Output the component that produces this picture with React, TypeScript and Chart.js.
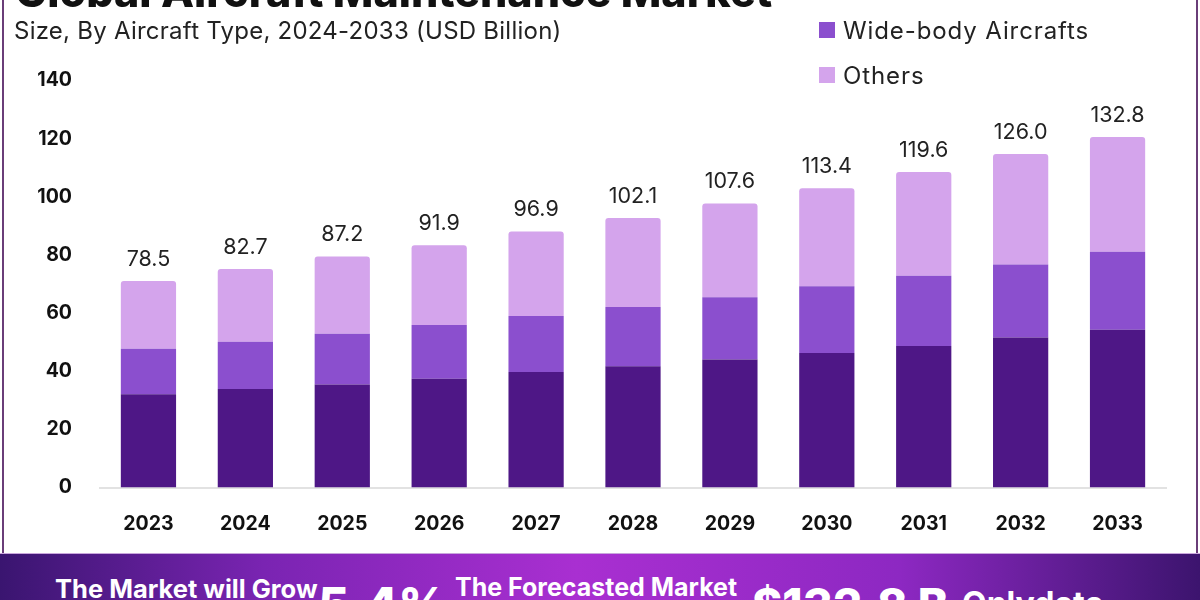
import React, { useEffect, useRef } from "react";
import { Chart, registerables } from "chart.js";

Chart.register(...registerables);

const years = ["2023", "2024", "2025", "2026", "2027", "2028", "2029", "2030", "2031", "2032", "2033"];
const narrowBody = [32.1, 33.9, 35.4, 37.4, 39.7, 41.7, 44.0, 46.3, 48.7, 51.6, 54.3];
const wideBody = [15.6, 16.2, 17.5, 18.5, 19.3, 20.4, 21.4, 22.9, 24.1, 25.1, 26.8];
const others = [23.3, 25.1, 26.6, 27.4, 29.1, 30.6, 32.3, 33.7, 35.7, 38.0, 39.5];
const totalLabels = ["78.5", "82.7", "87.2", "91.9", "96.9", "102.1", "107.6", "113.4", "119.6", "126.0", "132.8"];
const seriesNames = ["Narrow-body Aircrafts", "Wide-body Aircrafts", "Others"];
const yMax = 140;
const yStep = 20;

const COLORS = ["#4e1786", "#8b4fce", "#d4a4ec"];
const FONT = "Inter, 'Open Sans', sans-serif";

export default function App() {
  const ref = useRef<HTMLCanvasElement>(null);

  useEffect(() => {
    if (!ref.current) return;
    const totalsPlugin = {
      id: "totals",
      afterDatasetsDraw(chart: any) {
        const ctx = chart.ctx;
        const meta = chart.getDatasetMeta(2);
        ctx.save();
        ctx.font = `400 21.5px ${FONT}`;
        ctx.fillStyle = "#222";
        ctx.textAlign = "center";
        ctx.textBaseline = "middle";
        meta.data.forEach((bar: any, i: number) => {
          ctx.fillText(totalLabels[i], bar.x, bar.y - 21.5);
        });
        ctx.restore();
      },
    };
    const chart = new Chart(ref.current, {
      type: "bar",
      data: {
        labels: years,
        datasets: [
          { label: seriesNames[0], data: narrowBody, backgroundColor: COLORS[0] },
          { label: seriesNames[1], data: wideBody, backgroundColor: COLORS[1] },
          { label: seriesNames[2], data: others, backgroundColor: COLORS[2], borderRadius: 3 },
        ],
      },
      options: {
        responsive: false,
        animation: false,
        devicePixelRatio: 1,
        layout: { padding: { top: 80.5, right: 34, left: 0, bottom: 0 } },
        datasets: { bar: { barPercentage: 0.57, categoryPercentage: 1 } },
        plugins: { legend: { display: false }, tooltip: { enabled: false } },
        scales: {
          x: {
            stacked: true,
            grid: { display: false, drawTicks: false },
            border: { display: true, color: "#e2e2e2", width: 2 },
            ticks: { font: { family: FONT, size: 19.5, weight: "bold" }, color: "#111", padding: 25 },
            afterFit: (s: any) => { s.height = 62.5; },
          },
          y: {
            stacked: true,
            min: 0,
            max: yMax,
            grid: { display: false, drawTicks: false },
            border: { display: false },
            ticks: { stepSize: yStep, font: { family: FONT, size: 19.5, weight: "bold" }, color: "#111", padding: 28 },
            afterFit: (s: any) => { s.width = 100; },
          },
        },
      },
      plugins: [totalsPlugin],
    } as any);
    return () => chart.destroy();
  }, []);

  const abs = (o: any) => ({ position: "absolute", ...o } as React.CSSProperties);

  return (
    <div style={{ position: "fixed", left: 0, top: 0, width: 1200, height: 600, overflow: "hidden", background: "#fff", fontFamily: FONT }}>
      <canvas ref={ref} width={1200} height={550} style={abs({ left: 0, top: 0, width: 1200, height: 550 })} />
      <div style={abs({ left: 15, top: -32, fontSize: 43, fontWeight: 800, lineHeight: "46px", color: "#111", whiteSpace: "nowrap" })}>
        Global Aircraft Maintenance Market
      </div>
      <div style={abs({ left: 14, top: 16, fontSize: 24, letterSpacing: 0.25, lineHeight: "30px", color: "#222", whiteSpace: "nowrap" })}>
        Size, By Aircraft Type, 2024-2033 (USD Billion)
      </div>
      {seriesNames.map((n, i) => (
        <div key={n} style={abs({ left: 819, top: -29 + i * 45, height: 28, display: "flex", alignItems: "center", whiteSpace: "nowrap" })}>
          <div style={{ width: 16, height: 16, background: COLORS[i], marginRight: 8 }} />
          <span style={{ fontSize: 24, letterSpacing: 0.9, color: "#222" }}>{n}</span>
        </div>
      ))}
      <div style={abs({ left: 2, top: 0, width: 2, height: 554, background: "#6a3d78" })} />
      <div style={abs({ left: 1196, top: 0, width: 2, height: 554, background: "#6a3d78" })} />
      <div style={abs({ left: 0, top: 553, width: 1200, height: 47, borderTop: "1px solid #c9a6dc", background: "linear-gradient(90deg, #3a1570 0%, #7a24b2 22%, #a92fd1 48%, #8d28c2 75%, #3c146e 100%)" })}>
        <div style={abs({ left: 55, top: 21, fontSize: 25.5, fontWeight: 700, color: "#fff", whiteSpace: "nowrap", lineHeight: "28px" })}>The Market will Grow</div>
        <div style={abs({ left: 318, top: 24, fontSize: 48, fontWeight: 800, color: "#fff", whiteSpace: "nowrap", lineHeight: "54px" })}>5.4%</div>
        <div style={abs({ left: 455, top: 19, fontSize: 25, fontWeight: 700, color: "#fff", whiteSpace: "nowrap", lineHeight: "28px" })}>The Forecasted Market</div>
        <div style={abs({ left: 752, top: 24, fontSize: 46, fontWeight: 800, color: "#fff", whiteSpace: "nowrap", lineHeight: "54px" })}>$132.8 B</div>
        <div style={abs({ left: 962, top: 30, fontSize: 32, fontWeight: 700, color: "#fff", whiteSpace: "nowrap", lineHeight: "40px" })}>Onlydata</div>
      </div>
    </div>
  );
}
